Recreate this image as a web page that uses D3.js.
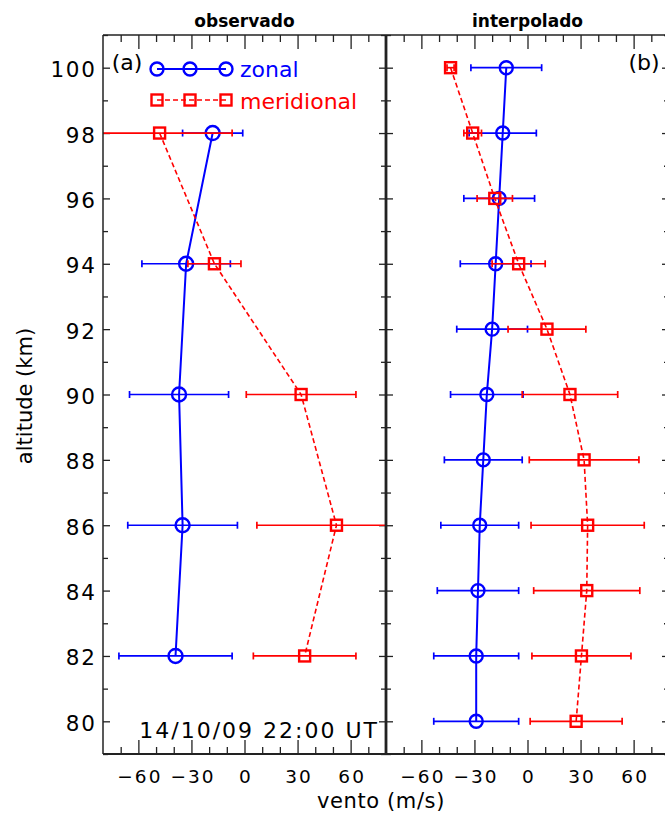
<!DOCTYPE html>
<html><head><meta charset="utf-8">
<script src="https://cdn.jsdelivr.net/npm/d3@7"></script>
<style>html,body{margin:0;padding:0;background:#fff;overflow:hidden}svg{display:block;font-family:"DejaVu Sans",sans-serif}</style>
</head><body><svg id="c" width="665" height="814"></svg>
<script>
// ---- data ----
const altObs = [98, 94, 90, 86, 82];
const zonalObs = [-18, -33, -37, -35, -39];
const zonalObsErr = [17, 25, 28, 31, 32];
const meridObs = [-48, -17, 32, 52, 34];
const meridObsErr = [41, 15, 31, 45, 29];

const altInt = [100, 98, 96, 94, 92, 90, 88, 86, 84, 82, 80];
const zonalInt = [-12, -14, -16, -18, -20, -23, -25, -27, -28, -29, -29];
const zonalIntErr = [20, 19, 20, 20, 20, 20.5, 22, 22, 23, 24, 24];
const meridInt = [-43.5, -31, -18.5, -5, 11, 24, 32, 34, 33.5, 30.5, 27.5];
const meridIntErr = [2, 5, 10, 15, 22, 27, 31, 32, 30, 28, 26];

const xMajor = [-60, -30, 0, 30, 60];
const xMinor = [-70, -50, -40, -20, -10, 10, 20, 40, 50, 70];
const yMajor = [80, 82, 84, 86, 88, 90, 92, 94, 96, 98, 100];
const yMinor = [79, 81, 83, 85, 87, 89, 91, 93, 95, 97, 99, 101];
const panelTitles = ["observado", "interpolado"];
const panelTags = ["(a)", "(b)"];
const legendNames = ["zonal", "meridional"];
const dateLabel = "14/10/09 22:00 UT";

// ---- layout ----
const svg = d3.select("#c");
const yTop = 35, yBot = 754;
const panels = [
  {x0: 103, x1: 386, alt: altObs, z: zonalObs, ze: zonalObsErr, m: meridObs, me: meridObsErr, r: 7, s: 11},
  {x0: 386, x1: 669, alt: altInt, z: zonalInt, ze: zonalIntErr, m: meridInt, me: meridIntErr, r: 6.5, s: 11}
];
const y = d3.scaleLinear().domain([79, 101]).range([yBot, yTop]);
const BLUE = "#0000ff", RED = "#ff0000", AX = "#222";
const fmt = d => d < 0 ? "\u2212" + Math.abs(d) : String(d);

panels.forEach((p, i) => {
  const x = d3.scaleLinear().domain([-80, 80]).range([p.x0, p.x1]);
  p.x = x;
  const g = svg.append("g");
  const cid = "clip" + i;
  svg.append("clipPath").attr("id", cid).append("rect")
    .attr("x", p.x0).attr("y", yTop).attr("width", p.x1 - p.x0).attr("height", yBot - yTop);

  // axes
  const styleAx = sel => { sel.select(".domain").remove(); sel.selectAll(".tick line").attr("stroke", AX).attr("stroke-width", 1.3); };
  g.append("g").attr("transform", `translate(0,${yBot})`)
    .call(d3.axisBottom(x).tickValues(xMajor).tickSizeInner(-14).tickSizeOuter(0).tickPadding(16).tickFormat(fmt))
    .call(styleAx)
    .call(s => s.selectAll("text").attr("font-size", 18.5).attr("fill", "#000").attr("font-family", "DejaVu Sans")
      .attr("letter-spacing", 2).attr("dx", 1));
  g.append("g").attr("transform", `translate(0,${yBot})`)
    .call(d3.axisBottom(x).tickValues(xMinor).tickSizeInner(-7).tickSizeOuter(0).tickFormat(""))
    .call(styleAx);
  g.append("g").attr("transform", `translate(0,${yTop})`)
    .call(d3.axisTop(x).tickValues(xMajor).tickSizeInner(-14).tickSizeOuter(0).tickFormat(""))
    .call(styleAx);
  g.append("g").attr("transform", `translate(0,${yTop})`)
    .call(d3.axisTop(x).tickValues(xMinor).tickSizeInner(-7).tickSizeOuter(0).tickFormat(""))
    .call(styleAx);
  const la = g.append("g").attr("transform", `translate(${p.x0},0)`)
    .call(d3.axisLeft(y).tickValues(yMajor).tickSizeInner(-7).tickSizeOuter(0).tickPadding(8)
      .tickFormat(i === 0 ? d3.format("d") : ""))
    .call(styleAx);
  la.selectAll("text").attr("font-size", 21.5).attr("fill", "#000").attr("dy", "0.42em")
    .attr("font-family", "DejaVu Sans").attr("letter-spacing", 1.8).attr("dx", 1.8);
  g.append("g").attr("transform", `translate(${p.x0},0)`)
    .call(d3.axisLeft(y).tickValues(yMinor).tickSizeInner(-5).tickSizeOuter(0).tickFormat(""))
    .call(styleAx);
  g.append("g").attr("transform", `translate(${p.x1},0)`)
    .call(d3.axisRight(y).tickValues(yMajor).tickSizeInner(-7).tickSizeOuter(0).tickFormat(""))
    .call(styleAx);
  g.append("g").attr("transform", `translate(${p.x1},0)`)
    .call(d3.axisRight(y).tickValues(yMinor).tickSizeInner(-5).tickSizeOuter(0).tickFormat(""))
    .call(styleAx);

  // data
  const dg = svg.append("g").attr("clip-path", `url(#${cid})`);
  const drawSeries = (vals, errs, color, dashed, marker) => {
    const pts = p.alt.map((a, k) => ({a, v: vals[k], e: errs[k]}));
    const eb = dg.append("g").attr("stroke", color).attr("stroke-width", 1.7);
    pts.forEach(d => {
      eb.append("line").attr("x1", x(d.v - d.e)).attr("x2", x(d.v + d.e)).attr("y1", y(d.a)).attr("y2", y(d.a));
      [d.v - d.e, d.v + d.e].forEach(v => eb.append("line").attr("x1", x(v)).attr("x2", x(v)).attr("y1", y(d.a) - 3.5).attr("y2", y(d.a) + 3.5));
    });
    dg.append("path").datum(pts).attr("fill", "none").attr("stroke", color)
      .attr("stroke-width", dashed ? 1.6 : 2).attr("stroke-dasharray", dashed ? "5,3" : null)
      .attr("d", d3.line().x(d => x(d.v)).y(d => y(d.a)));
    if (marker === "circle") {
      dg.selectAll(null).data(pts).join("circle").attr("cx", d => x(d.v)).attr("cy", d => y(d.a))
        .attr("r", p.r).attr("fill", "none").attr("stroke", color).attr("stroke-width", 2.4);
    } else {
      dg.selectAll(null).data(pts).join("rect").attr("x", d => x(d.v) - p.s / 2).attr("y", d => y(d.a) - p.s / 2)
        .attr("width", p.s).attr("height", p.s).attr("fill", "none").attr("stroke", color).attr("stroke-width", 2.4);
    }
  };
  drawSeries(p.z, p.ze, BLUE, false, "circle");
  drawSeries(p.m, p.me, RED, true, "square");

  // titles
  svg.append("text").attr("x", (p.x0 + p.x1) / 2).attr("y", 27).attr("text-anchor", "middle")
    .attr("font-size", 17).attr("font-weight", "bold").text(panelTitles[i]);
});

// frame
const fr = svg.append("g").attr("stroke", AX).attr("fill", "none");
fr.append("line").attr("x1", 103).attr("x2", 669).attr("y1", yTop).attr("y2", yTop).attr("stroke-width", 1.5);
fr.append("line").attr("x1", 103).attr("x2", 669).attr("y1", yBot).attr("y2", yBot).attr("stroke-width", 2);
fr.append("line").attr("x1", 103).attr("x2", 103).attr("y1", yTop).attr("y2", yBot).attr("stroke-width", 1.5);
fr.append("line").attr("x1", 386).attr("x2", 386).attr("y1", yTop).attr("y2", yBot).attr("stroke-width", 2.8);
fr.append("line").attr("x1", 669).attr("x2", 669).attr("y1", yTop).attr("y2", yBot).attr("stroke-width", 2.8);

// tags
svg.append("text").attr("x", 127).attr("y", 70).attr("text-anchor", "middle").attr("font-size", 22).text(panelTags[0]);
svg.append("text").attr("x", 644).attr("y", 70).attr("text-anchor", "middle").attr("font-size", 22).text(panelTags[1]);

// legend
const lx = [157, 190, 226];
const lg = svg.append("g");
lg.append("line").attr("x1", lx[0]).attr("x2", lx[2]).attr("y1", 69).attr("y2", 69).attr("stroke", BLUE).attr("stroke-width", 2);
lx.forEach(v => lg.append("circle").attr("cx", v).attr("cy", 69).attr("r", 6.5).attr("fill", "none").attr("stroke", BLUE).attr("stroke-width", 2.4));
lg.append("text").attr("x", 240).attr("y", 77).attr("font-size", 22).attr("fill", BLUE).text(legendNames[0]);
lg.append("line").attr("x1", lx[0]).attr("x2", lx[2]).attr("y1", 100).attr("y2", 100).attr("stroke", RED).attr("stroke-width", 1.6).attr("stroke-dasharray", "5,3");
lx.forEach(v => lg.append("rect").attr("x", v - 5.5).attr("y", 94.5).attr("width", 11).attr("height", 11).attr("fill", "none").attr("stroke", RED).attr("stroke-width", 2.4));
lg.append("text").attr("x", 240).attr("y", 109).attr("font-size", 22).attr("fill", RED).text(legendNames[1]);

// date
svg.append("text").attr("x", 379).attr("y", 738).attr("text-anchor", "end").attr("font-size", 22)
  .attr("letter-spacing", 2).text(dateLabel);

// axis titles
svg.append("text").attr("x", 381).attr("y", 808).attr("text-anchor", "middle").attr("font-size", 21)
  .attr("letter-spacing", 0.6).text("vento (m/s)");
svg.append("text").attr("transform", "translate(31.5,396) rotate(-90)").attr("text-anchor", "middle").attr("font-size", 21).text("altitude (km)");
</script></body></html>
